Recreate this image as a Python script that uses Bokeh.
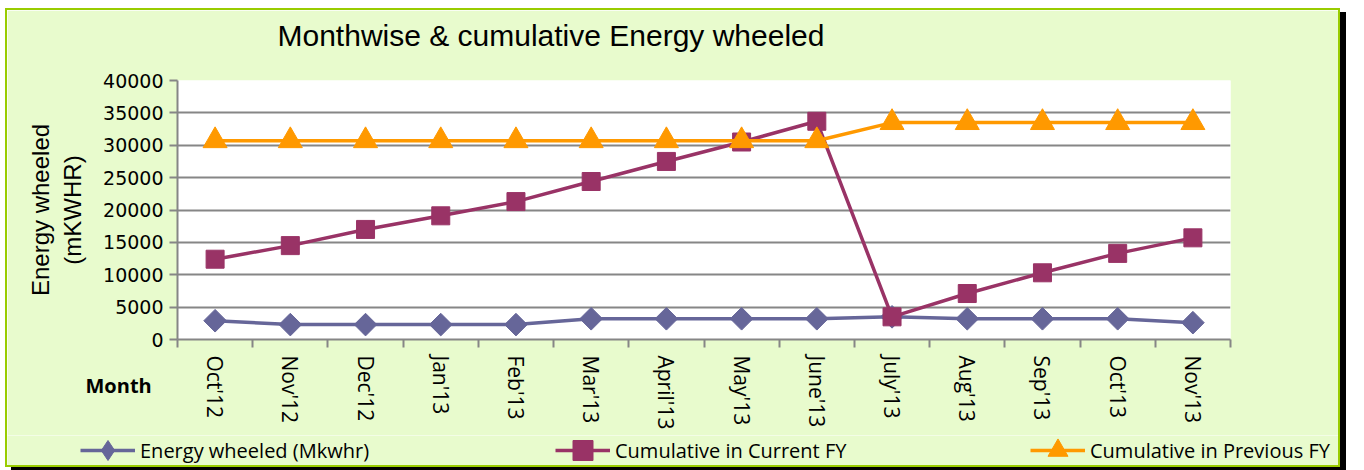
import math
from bokeh.plotting import figure
from bokeh.layouts import column
from bokeh.models import FixedTicker, Label, Legend, LegendItem, Range1d
from bokeh.embed import file_html
from bokeh.resources import INLINE

# ---- data ----
months = ["Oct'12", "Nov'12", "Dec'12", "Jan'13", "Feb'13", "Mar'13", "April'13",
          "May'13", "June'13", "July'13", "Aug'13", "Sep'13", "Oct'13", "Nov'13"]
energy_wheeled = [2900, 2300, 2300, 2300, 2300, 3200, 3200, 3200, 3200, 3500, 3200, 3200, 3200, 2600]
cum_current_fy = [12400, 14500, 17000, 19100, 21300, 24400, 27500, 30500, 33700, 3500, 7100, 10300, 13300, 15700]
cum_previous_fy = [30700, 30700, 30700, 30700, 30700, 30700, 30700, 30700, 30700, 33500, 33500, 33500, 33500, 33500]
y_ticks = [0, 5000, 10000, 15000, 20000, 25000, 30000, 35000, 40000]

series_names = ["Energy wheeled (Mkwhr)", "Cumulative in Current FY", "Cumulative in Previous FY"]
series_values = [energy_wheeled, cum_current_fy, cum_previous_fy]
title_text = "Monthwise & cumulative Energy wheeled"
y_label = "Energy wheeled\n(mKWHR)"
x_label = "Month"

# category centres on a numeric axis (one unit per month)
xs = [i + 0.5 for i in range(len(months))]
boundaries = list(range(len(months) + 1))

BG = "#e8fbcd"
GRID = "#868686"
colors = ["#666699", "#993366", "#ff9900"]
markers = ["square", "square", "triangle"]
key_markers = ["diamond", "square", "triangle"]
angles = [math.pi / 4, 0, 0]
sizes = [16, 18, 24]

p = figure(width=1331, height=425,
           x_range=Range1d(0, len(months)), y_range=Range1d(0, 40000),
           output_backend="svg", toolbar_location=None,
           min_border_left=170, min_border_right=108,
           min_border_top=70, min_border_bottom=96)

p.background_fill_color = "white"
p.border_fill_color = BG
p.outline_line_color = None

# axes
p.xaxis.ticker = FixedTicker(ticks=xs, minor_ticks=boundaries)
p.xaxis.major_label_overrides = {x: m for x, m in zip(xs, months)}
p.xaxis.major_label_orientation = "vertical"
p.xaxis.major_tick_line_color = None
p.xaxis.minor_tick_line_color = GRID
p.xaxis.minor_tick_line_width = 2
p.xaxis.minor_tick_out = 8
p.xaxis.minor_tick_in = 0
p.xaxis.axis_line_color = GRID
p.xaxis.axis_line_width = 2
p.xaxis.major_label_text_font = "Open Sans"
p.xaxis.major_label_text_font_size = "21px"
p.xaxis.major_label_text_color = "black"
p.xaxis.major_label_standoff = 8

p.yaxis.ticker = FixedTicker(ticks=y_ticks)
p.yaxis.formatter.use_scientific = False
p.yaxis.major_tick_line_color = GRID
p.yaxis.major_tick_line_width = 2
p.yaxis.major_tick_out = 8
p.yaxis.major_tick_in = 0
p.yaxis.minor_tick_line_color = None
p.yaxis.axis_line_color = GRID
p.yaxis.axis_line_width = 2
p.yaxis.major_label_text_font = "DejaVu Sans"
p.yaxis.major_label_text_font_size = "19px"
p.yaxis.major_label_text_color = "black"
p.yaxis.major_label_standoff = 6
p.yaxis.axis_label = y_label
p.yaxis.axis_label_text_font = "Liberation Sans"
p.yaxis.axis_label_text_font_size = "24px"
p.yaxis.axis_label_text_font_style = "normal"
p.yaxis.axis_label_text_color = "black"
p.yaxis.axis_label_standoff = 14

p.xgrid.visible = False
p.ygrid.grid_line_color = GRID
p.ygrid.grid_line_width = 2

# series
for vals, col, mk, ang, sz in zip(series_values, colors, markers, angles, sizes):
    p.line(xs, vals, line_color=col, line_width=3.5)
    p.scatter(xs, vals, marker=mk, angle=ang, size=sz, fill_color=col, line_color=col)

# title (above panel) and x label (right panel, drawn at the lower left)
p.add_layout(Label(x=100, y=45, x_units="screen", y_units="screen", text=title_text,
                   text_font="Liberation Sans", text_font_size="30px",
                   text_baseline="middle", text_color="black"), "above")
p.add_layout(Label(x=-1145, y=-46, x_units="screen", y_units="screen", text=x_label,
                   text_font="Open Sans", text_font_size="20px", text_font_style="bold",
                   text_baseline="middle", text_color="black"), "right")

# legend strip below the chart: the same series drawn on a range where they are
# out of view, so that only their legend keys show
lg = figure(width=1331, height=30, x_range=Range1d(0, 1), y_range=Range1d(0, 1),
            output_backend="svg", toolbar_location=None,
            min_border_left=0, min_border_right=0, min_border_top=0, min_border_bottom=0)
for fig in (p, lg):
    if "frame_align" in fig.properties():
        fig.frame_align = False
lg.axis.visible = False
lg.grid.visible = False
lg.outline_line_color = None
lg.background_fill_color = BG
lg.border_fill_color = BG
keys = []
for name, vals, col, mk in zip(series_names, series_values, colors, key_markers):
    kl = lg.line(xs, vals, line_color=col, line_width=3.5)
    km = lg.scatter(xs, vals, marker=mk, fill_color=col, line_color=col)
    keys.append(LegendItem(label=name, renderers=[kl, km]))
legend = Legend(items=keys, orientation="horizontal", location=(73, -10),
                glyph_width=55, glyph_height=50, label_width=237, spacing=178,
                label_standoff=5, padding=0, margin=0,
                background_fill_alpha=0, border_line_alpha=0,
                label_text_font="Open Sans", label_text_font_size="20px",
                label_text_color="black")
lg.add_layout(legend, "center")

layout = column(p, lg, spacing=0)
layout.margin = (8, 0, 0, 5)
layout.styles = {"border": "2px solid #99cc00", "box-shadow": "6px 4px 0 #000000"}

open("out.html", "w").write(file_html(layout, INLINE))
